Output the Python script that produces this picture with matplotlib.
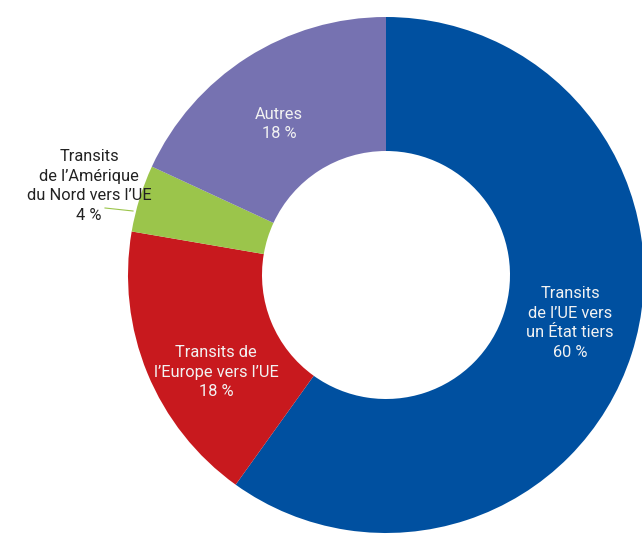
import matplotlib
matplotlib.use("Agg")
import matplotlib.pyplot as plt

labels = ["Transits\nde l’UE vers\nun État tiers\n60 %",
          "Transits de\nl’Europe vers l’UE\n18 %",
          "Transits\nde l’Amérique\ndu Nord vers l’UE\n4 %",
          "Autres\n18 %"]
values = [59.9, 17.8, 4.2, 18.1]
colors = ["#0050A0", "#C8191E", "#9BC54B", "#7672B1"]

W, H = 642, 534
fig = plt.figure(figsize=(W / 100, H / 100), dpi=100)
ax = fig.add_axes([0, 0, 1, 1])

cx, cy = 386, H - 275
R = 258
hole = 124
ax.pie(values, colors=colors, startangle=90, counterclock=False,
       center=(cx, cy), radius=R,
       wedgeprops=dict(width=R - hole, linewidth=0),
       frame=True)
ax.set_xlim(0, W)
ax.set_ylim(0, H)
ax.set_aspect("equal")
ax.axis("off")

font = dict(family=["Roboto", "DejaVu Sans"], fontsize=11.8, ha="center", va="center",
            linespacing=1.38)
txtcol = "#F2F2F2"
ax.text(570, H - 323, labels[0], color=txtcol, **font)
ax.text(216, H - 372, labels[1], color=txtcol, **font)
ax.text(279, H - 124, labels[3], color=txtcol, **font)
ax.text(89, H - 186, labels[2], color="#222222", **font)
ax.plot([105, 133], [H - 208, H - 211], color="#9BC54B", lw=0.8)

fig.savefig("out.png", dpi=100)
